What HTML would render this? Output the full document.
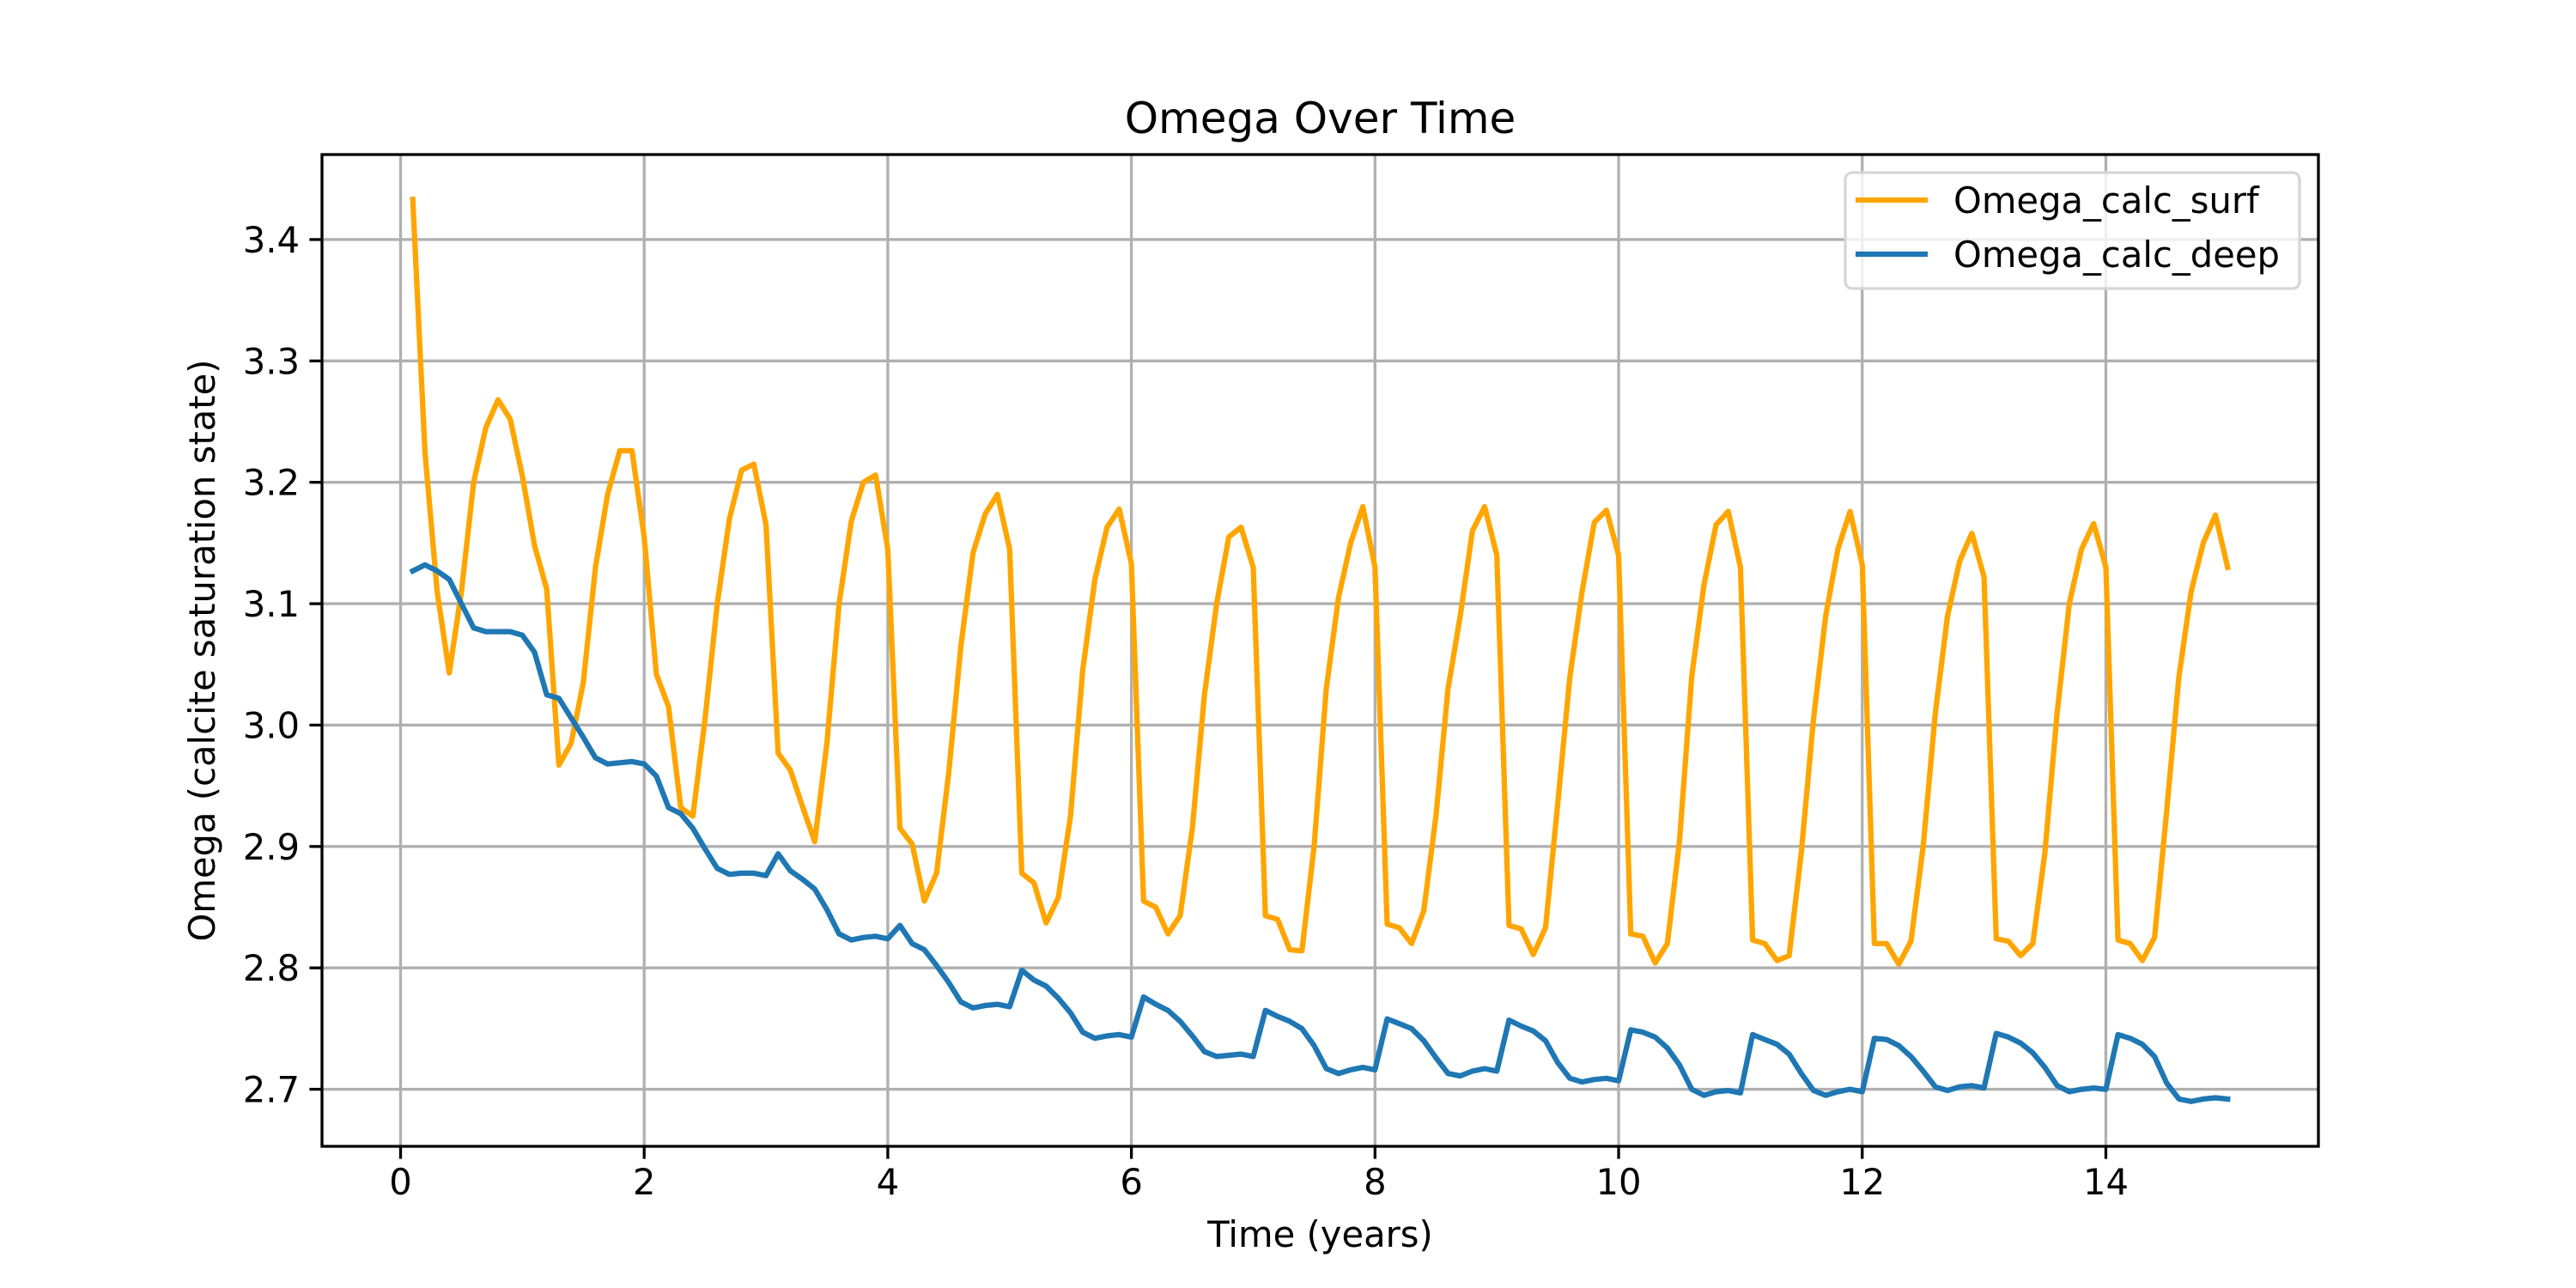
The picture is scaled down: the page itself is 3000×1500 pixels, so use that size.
<!DOCTYPE html>
<html><head><meta charset="utf-8"><style>html,body{margin:0;padding:0;background:#fff}svg{display:block}text{font-family:"DejaVu Sans","Liberation Sans",sans-serif;fill:#000}</style></head>
<body>
<svg id="chart" width="3000" height="1500" viewBox="0 0 3000 1500" xmlns="http://www.w3.org/2000/svg">
<rect width="3000" height="1500" fill="#fff"/>
<g id="grid"></g>
<g id="series"></g>
<rect x="375" y="180" width="2325" height="1155" fill="none" stroke="#000" stroke-width="3.3"/>
<g id="ticks"></g>
<text x="1537.5" y="155" font-size="50" text-anchor="middle">Omega Over Time</text>
<text x="1537.5" y="1452" font-size="41.7" text-anchor="middle">Time (years)</text>
<text x="0" y="0" font-size="41.7" text-anchor="middle" transform="translate(250,757.5) rotate(-90)">Omega (calcite saturation state)</text>
<g>
<rect x="2149" y="201" width="529" height="135" rx="8" fill="#fff" fill-opacity="0.8" stroke="#d6d6d6" stroke-width="3.3"/>
<line x1="2161" y1="233" x2="2245" y2="233" stroke="#ffa500" stroke-width="6.25"/>
<text x="2275" y="248" font-size="41.7">Omega_calc_surf</text>
<line x1="2161" y1="296" x2="2245" y2="296" stroke="#1f77b4" stroke-width="6.25"/>
<text x="2275" y="311" font-size="41.7">Omega_calc_deep</text>
</g>
</svg>
<script>
const xTicks=[0,2,4,6,8,10,12,14];
const yTicks=[2.7,2.8,2.9,3.0,3.1,3.2,3.3,3.4];
const yTickLabels=["2.7","2.8","2.9","3.0","3.1","3.2","3.3","3.4"];
const surf=[3.433,3.225,3.11,3.043,3.11,3.2,3.245,3.268,3.252,3.205,
3.148,3.112,2.967,2.985,3.035,3.13,3.19,3.226,3.226,3.155,
3.042,3.015,2.932,2.925,3.005,3.1,3.17,3.21,3.215,3.165,
2.977,2.963,2.933,2.904,2.985,3.1,3.168,3.2,3.206,3.145,
2.915,2.902,2.855,2.878,2.96,3.065,3.142,3.174,3.19,3.145,
2.878,2.87,2.837,2.858,2.925,3.045,3.12,3.163,3.178,3.133,
2.855,2.85,2.828,2.843,2.915,3.025,3.1,3.155,3.163,3.13,
2.843,2.84,2.815,2.814,2.9,3.03,3.105,3.15,3.18,3.13,
2.836,2.833,2.82,2.847,2.925,3.03,3.09,3.16,3.18,3.14,
2.835,2.832,2.811,2.833,2.935,3.04,3.11,3.167,3.177,3.14,
2.828,2.826,2.804,2.82,2.905,3.04,3.115,3.165,3.176,3.13,
2.823,2.82,2.806,2.81,2.895,3.005,3.09,3.145,3.176,3.132,
2.82,2.82,2.803,2.822,2.9,3.01,3.09,3.135,3.158,3.122,
2.824,2.822,2.81,2.82,2.895,3.01,3.1,3.145,3.166,3.13,
2.823,2.82,2.806,2.825,2.93,3.04,3.11,3.15,3.173,3.13];
const deep=[3.127,3.132,3.127,3.12,3.1,3.08,3.077,3.077,3.077,3.074,
3.06,3.025,3.022,3.006,2.99,2.973,2.968,2.969,2.97,2.968,
2.958,2.932,2.927,2.915,2.898,2.882,2.877,2.878,2.878,2.876,
2.894,2.88,2.873,2.865,2.848,2.828,2.823,2.825,2.826,2.824,
2.835,2.82,2.815,2.802,2.788,2.772,2.767,2.769,2.77,2.768,
2.798,2.79,2.785,2.775,2.763,2.747,2.742,2.744,2.745,2.743,
2.776,2.77,2.765,2.756,2.744,2.731,2.727,2.728,2.729,2.727,
2.765,2.76,2.756,2.75,2.736,2.717,2.713,2.716,2.718,2.716,
2.758,2.754,2.75,2.74,2.726,2.713,2.711,2.715,2.717,2.715,
2.757,2.752,2.748,2.74,2.722,2.709,2.706,2.708,2.709,2.707,
2.749,2.747,2.743,2.734,2.72,2.7,2.695,2.698,2.699,2.697,
2.745,2.741,2.737,2.729,2.713,2.699,2.695,2.698,2.7,2.698,
2.742,2.741,2.736,2.727,2.715,2.702,2.699,2.702,2.703,2.701,
2.746,2.743,2.738,2.73,2.718,2.703,2.698,2.7,2.701,2.7,
2.745,2.742,2.737,2.727,2.705,2.692,2.69,2.692,2.693,2.692];
const times=surf.map((_,i)=>Math.round((i+1))/10);

const NS='http://www.w3.org/2000/svg';
const L=375,R=2700,T=180,B=1335;
const X0=-0.645,X1=15.745,Y0=2.653,Y1=3.47;
const xs=v=>L+(v-X0)/(X1-X0)*(R-L);
const ys=v=>B-(v-Y0)/(Y1-Y0)*(B-T);
function mk(tag,attrs,parent){const e=document.createElementNS(NS,tag);for(const k in attrs)e.setAttribute(k,attrs[k]);parent.appendChild(e);return e;}
const grid=document.getElementById('grid'),ticks=document.getElementById('ticks'),series=document.getElementById('series');
xTicks.forEach(t=>{
  const g=mk('line',{x1:xs(t),x2:xs(t),y1:T,y2:B,stroke:'#b0b0b0','stroke-width':3.3},grid);
  
  
  const tk=mk('line',{x1:xs(t),x2:xs(t),y1:B,y2:B+14.6,stroke:'#000','stroke-width':3.3},ticks);
  
  
  const tx=mk('text',{x:xs(t),y:B+56,'font-size':41.7,'text-anchor':'middle'},ticks);
  tx.textContent=String(t);
  
  
});
yTicks.forEach((t,i)=>{
  const g=mk('line',{x1:L,x2:R,y1:ys(t),y2:ys(t),stroke:'#b0b0b0','stroke-width':3.3},grid);
  
  
  const tk=mk('line',{x1:L-14.6,x2:L,y1:ys(t),y2:ys(t),stroke:'#000','stroke-width':3.3},ticks);
  
  
  const tx=mk('text',{x:L-26,y:ys(t)+15,'font-size':41.7,'text-anchor':'end'},ticks);
  tx.textContent=yTickLabels[i];
  
  
});
function line(arr,color,name){
  const d=arr.map((v,i)=>(i?'L':'M')+xs(times[i]).toFixed(1)+' '+ys(v).toFixed(1)).join(' ');
  const p=mk('path',{d:d,fill:'none',stroke:color,'stroke-width':6.25,'stroke-linejoin':'round','stroke-linecap':'square'},series);
  
  
}
line(surf,'#ffa500','omega-calc-surf-line');
line(deep,'#1f77b4','omega-calc-deep-line');
</script>
</body></html>
